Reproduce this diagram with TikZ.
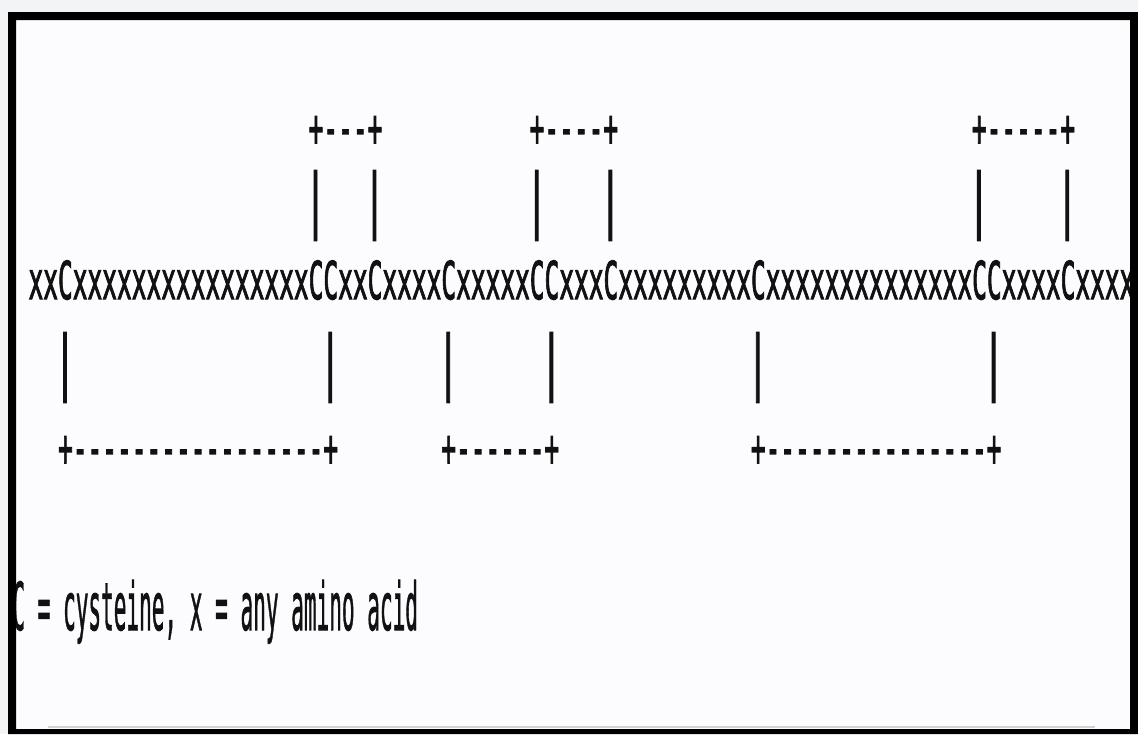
\documentclass[tikz,border=0pt]{standalone}
\usepackage{fontspec}
\usepackage{graphicx}
\newfontfamily\monofont[FakeBold=2.5]{DejaVu Sans Mono}
\newfontfamily\keyfont[FakeBold=1.5]{DejaVu Sans Mono}

% narrow monospaced text: horizontal squeeze factors for each row type
\newcommand\sq[1]{\scalebox{0.471}[1]{#1}}
\newcommand\bq[1]{\scalebox{0.5}[1]{#1}}
\newcommand\keysq[1]{\scalebox{0.319}[1]{#1}}

\definecolor{pagegray}{HTML}{F3F4F6}
\definecolor{paper}{HTML}{FCFBFE}
\definecolor{ink}{HTML}{111111}

\tikzset{
  seqtext/.style={inner sep=0pt, anchor=base west, text=ink,
    font=\monofont\fontsize{26}{26}\selectfont},
  barglyph/.style={inner sep=0pt, anchor=base, text=ink,
    font=\monofont\fontsize{35}{35}\selectfont},
  legendtext/.style={inner sep=0pt, anchor=base west, text=ink,
    font=\keyfont\fontsize{33}{33}\selectfont},
}

% column geometry of the sequence (pixel units)
\newcommand\colx[1]{35.5+#1*14.74}
\newcommand\coll[1]{28.13+#1*14.74}

\begin{document}
\begin{tikzpicture}[x=0.5pt,y=-0.5pt]
  \useasboundingbox (0,0) rectangle (1138,734);
  \fill[pagegray] (0,0) rectangle (1138,734);
  \fill[paper] (8,12) rectangle (1138,734);

  % cysteine bridges above the chain
  \node[seqtext] (top1) at ({\coll{19}},146) {\sq{+---+}};
  \node[seqtext] (top2) at ({\coll{34}},146) {\sq{+----+}};
  \node[seqtext] (top3) at ({\coll{64}},146) {\sq{+-----+}};
  \foreach \i in {19,23,34,39,64,70}
    \node[barglyph] (tb\i) at ({\colx{\i}},224) {\bq{|}};

  % the chain itself
  \node[seqtext] (seq) at ({\coll{0}},299)
    {\sq{xxCxxxxxxxxxxxxxxxxCCxxCxxxxCxxxxxCCxxxCxxxxxxxxxCxxxxxxxxxxxxxxCCxxxxCxxxx}};

  % cysteine bridges below the chain
  \foreach \i in {2,20,28,35,49,65}
    \node[barglyph] (bb\i) at ({\colx{\i}},386) {\bq{|}};
  \node[seqtext] (bot1) at ({\coll{2}},466) {\sq{+-----------------+}};
  \node[seqtext] (bot2) at ({\coll{28}},466) {\sq{+------+}};
  \node[seqtext] (bot3) at ({\coll{49}},466) {\sq{+---------------+}};

  % key
  \node[legendtext] (key) at (12,630) {\keysq{C = cysteine, x = any amino acid}};

  % faint rule near the lower edge
  \draw[gray!35, line width=1pt] (48,727) -- (1095,727);

  % black frame
  \fill[black, even odd rule] (8,12) rectangle (1138,734) (16,20) rectangle (1130,729);
\end{tikzpicture}
\end{document}
